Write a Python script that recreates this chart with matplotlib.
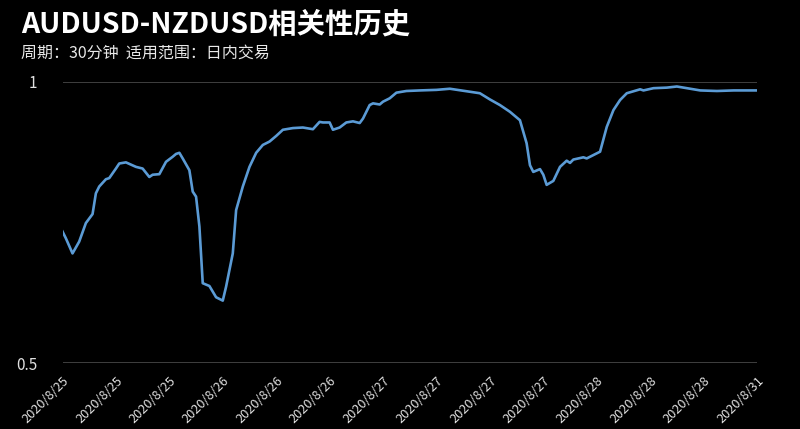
import matplotlib
matplotlib.use("Agg")
import matplotlib.pyplot as plt

plt.rcParams['font.family'] = ['Noto Sans CJK SC', 'DejaVu Sans']

title = "AUDUSD-NZDUSD相关性历史"
subtitle = "周期：30分钟  适用范围：日内交易"

bar_index = [0, 1, 3, 5, 7, 9, 10, 11, 13, 14, 16, 17, 19, 22, 24, 26, 27, 29, 31, 33,
             34, 35, 36, 38, 39, 40, 41, 42, 44, 46, 48, 49, 51, 52, 54, 56, 58, 60, 62, 64,
             66, 69, 72, 75, 77, 78, 80, 81, 83, 85, 87, 89, 90, 92, 93, 95, 96, 98, 100, 103,
             107, 112, 116, 125, 128, 131, 134, 137, 139, 140, 141, 143, 144, 145, 147, 149, 151, 152, 153, 156,
             157, 159, 161, 163, 165, 167, 169, 173, 174, 177, 181, 184, 187, 191, 196, 201, 208]
corr = [0.734, 0.722, 0.695, 0.716, 0.749, 0.765, 0.802, 0.814, 0.827, 0.829, 0.846, 0.855, 0.857, 0.849, 0.846, 0.831, 0.835, 0.836, 0.858, 0.867,
        0.872, 0.874, 0.864, 0.843, 0.805, 0.796, 0.743, 0.642, 0.637, 0.617, 0.611, 0.636, 0.695, 0.772, 0.814, 0.849, 0.874, 0.888, 0.894, 0.904,
        0.915, 0.918, 0.919, 0.916, 0.929, 0.928, 0.928, 0.915, 0.919, 0.928, 0.930, 0.927, 0.935, 0.959, 0.962, 0.960, 0.965, 0.971, 0.981, 0.984,
        0.985, 0.986, 0.988, 0.980, 0.969, 0.959, 0.947, 0.932, 0.891, 0.852, 0.840, 0.845, 0.835, 0.817, 0.824, 0.849, 0.860, 0.856, 0.862, 0.866,
        0.864, 0.870, 0.876, 0.920, 0.950, 0.968, 0.980, 0.987, 0.985, 0.989, 0.990, 0.992, 0.989, 0.985, 0.984, 0.985, 0.985]

tick_positions = [0, 16, 32, 48, 64, 80, 96, 112, 128, 144, 160, 176, 192, 208]
tick_labels = ["2020/8/25", "2020/8/25", "2020/8/25", "2020/8/26", "2020/8/26", "2020/8/26",
               "2020/8/27", "2020/8/27", "2020/8/27", "2020/8/27", "2020/8/28", "2020/8/28",
               "2020/8/28", "2020/8/31"]
y_ticks = [0.5, 1]
y_tick_labels = ["0.5", "1"]

fig = plt.figure(figsize=(8, 4.29), dpi=100, facecolor='black')
ax = fig.add_axes([62.5 / 800, 1 - 363 / 429, (757 - 62.5) / 800, (363 - 82) / 429])
ax.set_facecolor('black')

for yv in y_ticks:
    ax.axhline(yv, color='#4a4a4a', linewidth=1.2, zorder=1)

ax.plot(bar_index, corr, color='#5B9BD5', linewidth=1.9, zorder=3, solid_joinstyle='round')

ax.set_xlim(0, 208)
ax.set_ylim(0.5, 1)
ax.set_yticks(y_ticks)
ax.set_yticklabels(y_tick_labels, color='#e0e0e0', fontsize=11)
ax.set_xticks(tick_positions)
ax.set_xticklabels(tick_labels, color='#e0e0e0', fontsize=9.2, rotation=45,
                   ha='right', va='top', rotation_mode='anchor')
ax.tick_params(axis='both', length=0)
ax.tick_params(axis='y', pad=18)
ax.tick_params(axis='x', pad=8)
for s in ax.spines.values():
    s.set_visible(False)

fig.text(21 / 800, 1 - 32 / 429, title, color='white', fontsize=20.4, fontweight='heavy',
         ha='left', va='baseline')
fig.text(21 / 800, 1 - 58 / 429, subtitle, color='#e8e8e8', fontsize=11.5,
         ha='left', va='baseline')

fig.savefig('out.png', dpi=100, facecolor='black')
